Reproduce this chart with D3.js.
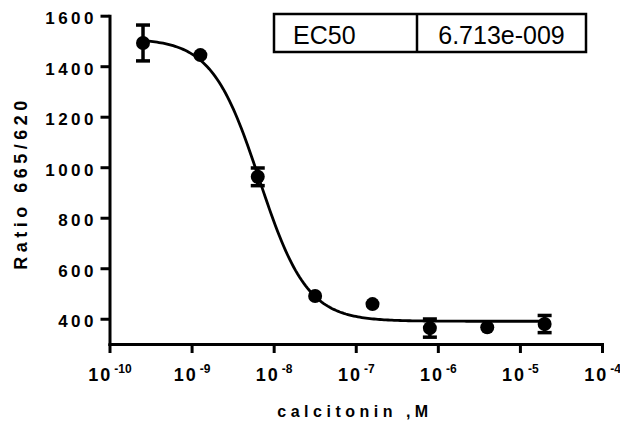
<!DOCTYPE html>
<html>
<head>
<meta charset="utf-8">
<script src="https://cdn.jsdelivr.net/npm/d3@7"></script>
<style>
  body { margin: 0; background: #fff; }
  svg text { font-family: "Liberation Sans", Arial, sans-serif; fill: #000; }
</style>
</head>
<body>
<svg id="chart"></svg>
<script>

// data
var concentrations = [2.56e-10, 1.28e-9, 6.4e-9, 3.2e-8, 1.6e-7, 8e-7, 4e-6, 2e-5];
var ratios = [1492, 1444, 962, 490, 458, 363, 366, 379];
var errors = [71, 0, 35, 0, 0, 36, 0, 34];

var yTicks = [400, 600, 800, 1000, 1200, 1400, 1600];
var xExponents = [-10, -9, -8, -7, -6, -5, -4];

// four parameter fit shown by the curve
var fitTop = 1510;
var fitBottom = 390;
var fitHill = 1.5;
var fitEC50 = 6.713e-9;

var tableCells = ["EC50", "6.713e-009"];

//************************************** chart ******************************************//

var width = 620;
var height = 421;

var svg = d3.select("#chart")
            .attr("width", width)
            .attr("height", height);

var x = d3.scaleLog()
          .domain([1e-10, 1e-4])
          .range([109.5, 602]);

var y = d3.scaleLinear()
          .domain([300, 1600])
          .range([344, 15.7]);

// fitted curve
var fit = function(c)
{
  return fitBottom + (fitTop - fitBottom) / (1 + Math.pow(10, (Math.log10(c) - Math.log10(fitEC50)) * fitHill));
};

var lo = Math.log10(d3.min(concentrations));
var hi = Math.log10(d3.max(concentrations));
var curve = d3.range(0, 201).map(function(i)
{
  var c = Math.pow(10, lo + (hi - lo) * i / 200);
  return [c, fit(c)];
});

var points = concentrations.map(function(c, i)
{
  return { c: c, r: ratios[i], e: errors[i] };
});

// axes
var yAxis = svg.append("g")
   .attr("transform", "translate(109.5,0)")
   .call(d3.axisLeft(y).tickValues(yTicks).tickSize(9).tickSizeOuter(0).tickFormat(d3.format("d")));

yAxis.select(".domain").attr("stroke-width", 3).attr("stroke-linecap", "square");
yAxis.selectAll(".tick line").attr("stroke-width", 3);
yAxis.selectAll(".tick text")
   .attr("x", -12.5)
   .attr("dy", "0.47em")
   .attr("font-size", "17px")
   .attr("font-weight", "bold")
   .attr("letter-spacing", "3.5px");

var xAxis = svg.append("g")
   .attr("transform", "translate(0,344)")
   .call(d3.axisBottom(x)
           .tickValues(xExponents.map(function(p) { return Math.pow(10, p); }))
           .tickSize(9)
           .tickSizeOuter(0)
           .tickFormat(""));

xAxis.select(".domain").attr("stroke-width", 3).attr("stroke-linecap", "square");
xAxis.selectAll(".tick line").attr("stroke-width", 3);

xAxis.selectAll(".tick text")
   .data(xExponents)
   .attr("y", 37)
   .attr("dy", null)
   .attr("font-weight", "bold")
   .each(function(p)
   {
     var t = d3.select(this);
     t.append("tspan")
      .attr("font-size", "18px")
      .attr("letter-spacing", "2px")
      .text("10");
     t.append("tspan")
      .attr("font-size", "12px")
      .attr("dx", 2)
      .attr("dy", -8)
      .text(p);
   });

// axis titles
svg.append("text")
   .attr("x", 355)
   .attr("y", 417)
   .attr("text-anchor", "middle")
   .attr("font-size", "16px")
   .attr("font-weight", "bold")
   .attr("letter-spacing", "4.5px")
   .text("calcitonin ,M");

svg.append("text")
   .attr("transform", "translate(27,183) rotate(-90)")
   .attr("text-anchor", "middle")
   .attr("font-size", "18px")
   .attr("font-weight", "bold")
   .attr("letter-spacing", "4.5px")
   .text("Ratio 665/620");

// fit line
svg.append("path")
   .datum(curve)
   .attr("fill", "none")
   .attr("stroke", "black")
   .attr("stroke-width", 2.8)
   .attr("d", d3.line()
                .x(function(d) { return x(d[0]); })
                .y(function(d) { return y(d[1]); }));

// error bars
var bars = svg.selectAll(".err")
   .data(points.filter(function(d) { return d.e > 0; }))
   .enter()
   .append("g")
   .attr("class", "err")
   .attr("stroke", "black")
   .attr("stroke-width", 3.5);

bars.append("line")
   .attr("x1", function(d) { return x(d.c); })
   .attr("x2", function(d) { return x(d.c); })
   .attr("y1", function(d) { return y(d.r + d.e); })
   .attr("y2", function(d) { return y(d.r - d.e); });

bars.append("line")
   .attr("x1", function(d) { return x(d.c) - 7; })
   .attr("x2", function(d) { return x(d.c) + 7; })
   .attr("y1", function(d) { return y(d.r + d.e); })
   .attr("y2", function(d) { return y(d.r + d.e); });

bars.append("line")
   .attr("x1", function(d) { return x(d.c) - 7; })
   .attr("x2", function(d) { return x(d.c) + 7; })
   .attr("y1", function(d) { return y(d.r - d.e); })
   .attr("y2", function(d) { return y(d.r - d.e); });

// points
svg.selectAll("circle")
   .data(points)
   .enter()
   .append("circle")
   .attr("cx", function(d) { return x(d.c); })
   .attr("cy", function(d) { return y(d.r); })
   .attr("r", 7)
   .attr("fill", "black");

// EC50 table
var tableX = 274, tableY = 14, tableW = 312, tableH = 38, splitW = 143;

svg.append("rect")
   .attr("x", tableX)
   .attr("y", tableY)
   .attr("width", tableW)
   .attr("height", tableH)
   .attr("fill", "white")
   .attr("stroke", "black")
   .attr("stroke-width", 2.5);

svg.append("line")
   .attr("x1", tableX + splitW)
   .attr("x2", tableX + splitW)
   .attr("y1", tableY)
   .attr("y2", tableY + tableH)
   .attr("stroke", "black")
   .attr("stroke-width", 2.5);

svg.append("text")
   .attr("x", tableX + 19)
   .attr("y", tableY + 29.5)
   .attr("font-size", "25px")
   .text(tableCells[0]);

svg.append("text")
   .attr("x", tableX + splitW + (tableW - splitW) / 2)
   .attr("y", tableY + 29.5)
   .attr("text-anchor", "middle")
   .attr("font-size", "25px")
   .text(tableCells[1]);

</script>
</body>
</html>
